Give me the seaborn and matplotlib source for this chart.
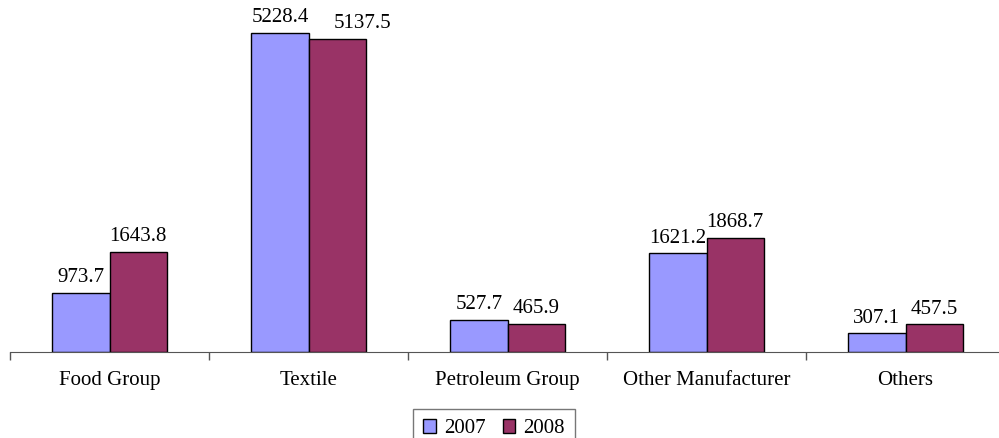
"""Grouped bars: sector values for 2007 vs 2008."""

import matplotlib
matplotlib.use("Agg")
import matplotlib.pyplot as plt
import seaborn as sns
import pandas as pd
import numpy as np

categories = ["Food Group", "Textile", "Petroleum Group", "Other Manufacturer", "Others"]
years = ["2007", "2008"]
values_2007 = [973.7, 5228.4, 527.7, 1621.2, 307.1]
values_2008 = [1643.8, 5137.5, 465.9, 1868.7, 457.5]

df = pd.DataFrame({
    "category": categories * 2,
    "year": [years[0]] * len(categories) + [years[1]] * len(categories),
    "value": values_2007 + values_2008,
})

sns.set_style("white")
plt.rcParams["font.family"] = ["Liberation Serif", "DejaVu Serif"]
plt.rcParams["text.color"] = "black"
plt.rcParams["xtick.color"] = "black"

fig = plt.figure(figsize=(9.99, 4.38), dpi=100)
ax = fig.add_axes([10 / 999, 86 / 438, 995 / 999, 352 / 438])

sns.barplot(
    data=df, x="category", y="value", hue="year", order=categories,
    hue_order=years, palette=["#9999FF", "#993366"], width=0.575,
    edgecolor="black", linewidth=1.0, saturation=1, ax=ax, legend=True,
)

label_sets = []
for cont in ax.containers:
    label_sets.append(ax.bar_label(cont, fmt="%.1f", padding=4, fontsize=15, clip_on=False))

# the Textile 2008 label sits nudged right in the original so it doesn't touch its neighbour
t = label_sets[1][1]
t.xyann = (t.xyann[0] + 18, t.xyann[1])

ax.set_xlim(-0.5, 4.5)
ax.set_ylim(0, 5770)
ax.set_xlabel("")
ax.set_ylabel("")
ax.set_yticks([])
for side in ["top", "right", "left"]:
    ax.spines[side].set_visible(False)
ax.spines["bottom"].set_color("#555555")

ax.set_xticks(np.arange(len(categories)))
ax.set_xticklabels(categories, fontsize=15)
ax.tick_params(axis="x", which="major", length=0, pad=14)
ax.set_xticks(np.arange(-0.5, len(categories), 1), minor=True)
ax.tick_params(axis="x", which="minor", bottom=True, length=6,
               color="#555555", width=1, direction="out")

handles, labels = ax.get_legend_handles_labels()
ax.legend(
    handles, labels, loc="upper left", bbox_to_anchor=(413 / 999, 1 - 409 / 438),
    bbox_transform=fig.transFigure, ncol=2, frameon=True, fancybox=False,
    edgecolor="#555555", fontsize=15, handlelength=0.6, handleheight=0.6,
    handletextpad=0.4, columnspacing=0.8, borderpad=0.5, borderaxespad=0,
)

fig.savefig("out.png", dpi=100)
plt.close(fig)
